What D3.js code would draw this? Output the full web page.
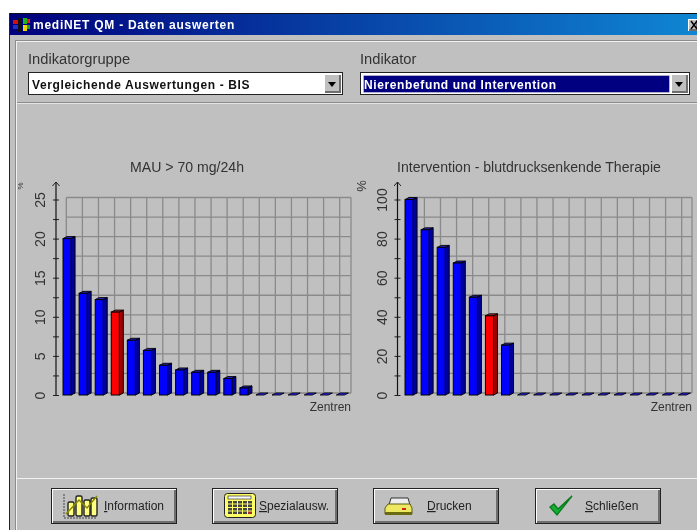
<!DOCTYPE html>
<html>
<head>
<meta charset="utf-8">
<script src="https://cdn.jsdelivr.net/npm/d3@7"></script>
<style>
  html, body { margin: 0; padding: 0; background: #fff; overflow: hidden; }
  svg { display: block; filter: blur(0.3px); }
  text { font-family: "Liberation Sans", Arial, sans-serif; fill: #222; }
</style>
</head>
<body>
<svg id="screen" width="697" height="530"></svg>
<script>
// Data
const centres = d3.range(1, 19);
const mauValues = [20, 13, 12.2, 10.6, 7, 5.7, 3.8, 3.2, 2.9, 2.9, 2.1, 0.9, 0, 0, 0, 0, 0, 0];
const therapyValues = [100, 84.5, 75.5, 67.5, 50, 40.5, 25.5, 0, 0, 0, 0, 0, 0, 0, 0, 0, 0, 0];
const mauTicks = [0, 5, 10, 15, 20, 25];
const therapyTicks = [0, 20, 40, 60, 80, 100];
const buttonLabels = ['Information', 'Spezialausw.', 'Drucken', 'Schließen'];

const svg = d3.select('#screen');

// Windows style raised box
function raised(g, x, y, w, h, outline = true) {
  if (outline) g.append('rect').attr('x', x).attr('y', y).attr('width', w).attr('height', h).attr('fill', '#222');
  g.append('rect').attr('x', x + 1).attr('y', y + 1).attr('width', w - 2).attr('height', h - 2).attr('fill', '#fff');
  g.append('rect').attr('x', x + 2).attr('y', y + 2).attr('width', w - 3).attr('height', h - 3).attr('fill', '#6e6e6e');
  g.append('rect').attr('x', x + 2).attr('y', y + 2).attr('width', w - 5).attr('height', h - 5).attr('fill', '#c0c0c0');
}

function drawWindow() {
  const defs = svg.append('defs');
  const grad = defs.append('linearGradient').attr('id', 'titleGrad');
  grad.append('stop').attr('offset', '0%').attr('stop-color', '#00007c');
  grad.append('stop').attr('offset', '100%').attr('stop-color', '#0f86d2');

  svg.append('rect').attr('x', 9).attr('y', 13).attr('width', 688).attr('height', 517).attr('fill', '#c0c0c0');
  svg.append('rect').attr('x', 9).attr('y', 13).attr('width', 688).attr('height', 1).attr('fill', '#111');
  svg.append('rect').attr('x', 9).attr('y', 13).attr('width', 1).attr('height', 517).attr('fill', '#222');
  svg.append('rect').attr('x', 10).attr('y', 14).attr('width', 687).attr('height', 21).attr('fill', 'url(#titleGrad)');

  // frame grooves
  svg.append('rect').attr('x', 15).attr('y', 40).attr('width', 682).attr('height', 1).attr('fill', '#8c8c8c');
  svg.append('rect').attr('x', 15).attr('y', 41).attr('width', 682).attr('height', 1).attr('fill', '#f2f2f2');
  svg.append('rect').attr('x', 15).attr('y', 40).attr('width', 1).attr('height', 490).attr('fill', '#8c8c8c');
  svg.append('rect').attr('x', 16).attr('y', 41).attr('width', 1).attr('height', 489).attr('fill', '#f2f2f2');
  svg.append('rect').attr('x', 17).attr('y', 102).attr('width', 680).attr('height', 1).attr('fill', '#8c8c8c');
  svg.append('rect').attr('x', 17).attr('y', 103).attr('width', 680).attr('height', 1).attr('fill', '#e4e4e4');
  svg.append('rect').attr('x', 17).attr('y', 478).attr('width', 680).attr('height', 1).attr('fill', '#f2f2f2');

  // title bar icon
  const icon = svg.append('g');
  [['#d01010', 13, 20, 5, 4], ['#2030d0', 13, 25, 5, 4], ['#20b020', 23, 18, 4, 6], ['#e8d800', 23, 25, 4, 6],
   ['#111', 18, 18, 4, 14], ['#e02020', 27, 19, 3, 4], ['#20a020', 27, 25, 3, 4]].forEach(d => {
    icon.append('rect').attr('fill', d[0]).attr('x', d[1]).attr('y', d[2]).attr('width', d[3]).attr('height', d[4]);
  });
  svg.append('text').attr('x', 33).attr('y', 29).text('mediNET QM - Daten auswerten')
    .style('font-size', '12px').style('font-weight', 'bold').style('letter-spacing', '0.74px').style('fill', '#fff');

  // close button
  const close = svg.append('g');
  raised(close, 687, 18, 12, 14, false);
  close.append('path').attr('d', 'M691 21L697 29M697 21L691 29').attr('stroke', '#000').attr('stroke-width', 1.5);
}

function drawCombo(label, value, x, w, selected) {
  const g = svg.append('g');
  g.append('text').attr('x', x).attr('y', 64).text(label).style('font-size', '14.7px').style('fill', '#333');
  g.append('rect').attr('x', x + 0.5).attr('y', 72.5).attr('width', w - 1).attr('height', 22)
    .attr('fill', '#fff').attr('stroke', '#222');
  if (selected) {
    g.append('rect').attr('x', x + 3.5).attr('y', 75.5).attr('width', w - 24).attr('height', 17)
      .attr('fill', '#000080').attr('stroke', '#ddd').attr('stroke-dasharray', '1,1');
  }
  g.append('text').attr('x', x + 4).attr('y', 89).text(value)
    .style('font-size', '12px').style('font-weight', 'bold').style('letter-spacing', '0.62px')
    .style('fill', selected ? '#fff' : '#111');
  const btn = g.append('g');
  raised(btn, x + w - 20, 73, 19, 21, false);
  btn.append('path').attr('d', d3.line()([[x + w - 15, 82], [x + w - 7, 82], [x + w - 11, 87]])).attr('fill', '#000');
}

function drawChart(opts) {
  const { values, ticks, minorStep, maxValue, title, titleX, unit, axisX, firstBar, gridRight, highlight, unitFont, unitX } = opts;
  const g = svg.append('g');
  const y = d3.scaleLinear().domain([0, maxValue]).range([395, 199.5]);
  const x = d3.scaleBand().domain(centres)
    .range([firstBar - 4, firstBar - 4 + 18 * 16.08])
    .paddingInner(0.5).paddingOuter(0.25);
  const depthX = 4, depthY = 2;
  const gridTicks = d3.range(0, maxValue + minorStep / 2, minorStep);
  const gridColor = '#8a8a8a';

  // grid
  const gridG = g.append('g').attr('stroke', gridColor).attr('stroke-width', 1.3);
  gridG.selectAll('line.h').data(gridTicks).enter().append('line').attr('class', 'h')
    .attr('x1', x(1) + depthX - 0.5).attr('x2', gridRight)
    .attr('y1', d => y(d) - depthY).attr('y2', d => y(d) - depthY);
  gridG.selectAll('line.v').data(centres.slice(1)).enter().append('line').attr('class', 'v')
    .attr('x1', d => x(d) + 3.3).attr('x2', d => x(d) + 3.3)
    .attr('y1', y(maxValue) - depthY).attr('y2', y(0) - depthY);
  gridG.append('line').attr('x1', gridRight).attr('x2', gridRight).attr('y1', y(maxValue) - depthY).attr('y2', y(0) - depthY);
  gridG.append('line').attr('x1', x(1) + 3.3).attr('x2', x(1) + 3.3).attr('y1', y(maxValue) - depthY).attr('y2', y(0) - depthY);

  // y axis
  const axis = d3.axisLeft(y).tickValues(d3.range(0, maxValue + minorStep / 2, minorStep))
    .tickSize(3).tickFormat(d => ticks.includes(d) ? d : '');
  const axisG = g.append('g').attr('transform', `translate(${axisX},0)`).call(axis);
  axisG.select('.domain').remove();
  axisG.selectAll('.tick line').attr('x2', -3).attr('x1', 3).attr('stroke', '#222').attr('stroke-width', 1);
  axisG.selectAll('.tick text')
    .attr('transform', 'rotate(-90)').attr('x', 0).attr('y', -11).attr('dy', 0)
    .attr('text-anchor', 'middle')
    .style('font-size', '14px').style('fill', '#333');
  axisG.append('line').attr('y1', y(0)).attr('y2', 182).attr('stroke', '#111').attr('stroke-width', 1.2);
  axisG.append('path').attr('d', 'M-3.5 186L0 182L3.5 186').attr('fill', 'none').attr('stroke', '#222');

  // bars, back faces first so that the front stays on top
  const bars = g.selectAll('g.bar').data(centres).enter().append('g').attr('class', 'bar');
  const colors = d => d === highlight
    ? { front: '#ff0000', side: '#a00000', top: '#c02828' }
    : { front: '#0000ff', side: '#00009c', top: values[d - 1] > 0 ? '#2424c4' : '#2a2aff' };
  bars.append('path')
    .attr('d', d => {
      const x0 = x(d), x1 = x0 + x.bandwidth(), t = y(values[d - 1]);
      return `M${x0} ${t}L${x0 + depthX} ${t - depthY}L${x1 + depthX} ${t - depthY}L${x1} ${t}Z`;
    })
    .attr('fill', d => colors(d).top).attr('stroke', '#000').attr('stroke-width', 0.9);
  bars.filter(d => values[d - 1] > 0).append('path')
    .attr('d', d => {
      const x1 = x(d) + x.bandwidth(), t = y(values[d - 1]), b = y(0);
      return `M${x1} ${t}L${x1 + depthX} ${t - depthY}L${x1 + depthX} ${b - depthY}L${x1} ${b}Z`;
    })
    .attr('fill', d => colors(d).side).attr('stroke', '#000').attr('stroke-width', 1);
  bars.filter(d => values[d - 1] > 0).append('rect')
    .attr('x', d => x(d)).attr('y', d => y(values[d - 1]))
    .attr('width', x.bandwidth()).attr('height', d => y(0) - y(values[d - 1]))
    .attr('fill', d => colors(d).front).attr('stroke', '#000').attr('stroke-width', 1);

  // labels
  g.append('text').attr('x', titleX).attr('y', 172).attr('text-anchor', 'middle').text(title)
    .style('font-size', '14.1px').style('fill', '#333');
  g.append('text').attr('transform', `translate(${unitX},186) rotate(-90)`).attr('text-anchor', 'middle').text(unit)
    .style('font-size', unitFont).style('fill', '#333');
  g.append('text').attr('x', gridRight).attr('y', 411).attr('text-anchor', 'end').text('Zentren')
    .style('font-size', '12px').style('fill', '#333');
}

function drawButton(i, x, textX) {
  const g = svg.append('g');
  const y0 = 488, w = 126, h = 36;
  raised(g, x, y0, w, h);
  const txt = g.append('text').attr('x', textX).attr('y', y0 + 22)
    .style('font-size', '12px').style('fill', '#222');
  const label = buttonLabels[i];
  txt.append('tspan').attr('text-decoration', 'underline').text(label[0]);
  txt.append('tspan').text(label.slice(1));
  const ic = g.append('g').attr('transform', `translate(${x},${y0})`);
  if (i === 0) {
    ic.append('path').attr('d', 'M13 6V30H46').attr('fill', 'none').attr('stroke', '#444').attr('stroke-dasharray', '2,1');
    [[17, 14], [25, 8], [33, 12], [40, 10]].forEach(d => {
      ic.append('rect').attr('x', d[0]).attr('y', d[1]).attr('width', 6).attr('height', 28 - d[1])
        .attr('fill', '#ffff80').attr('stroke', '#222').attr('stroke-width', 1.4).attr('rx', 1.5);
    });
    ic.append('path').attr('d', 'M15 26L28 12L36 20L46 8').attr('fill', 'none').attr('stroke', '#8a8a00').attr('stroke-width', 1.5);
  } else if (i === 1) {
    ic.append('rect').attr('x', 12.5).attr('y', 5.5).attr('width', 31).attr('height', 24).attr('rx', 3)
      .attr('fill', '#ffff66').attr('stroke', '#222');
    ic.append('rect').attr('x', 16).attr('y', 8).attr('width', 23).attr('height', 3).attr('fill', '#fff').attr('stroke', '#333').attr('stroke-width', 0.7);
    d3.range(4).forEach(r => d3.range(5).forEach(c => {
      ic.append('rect').attr('x', 16 + c * 5).attr('y', 13 + r * 3.5).attr('width', 4).attr('height', 2.5)
        .attr('fill', r === 3 && c === 4 ? '#a03020' : '#444');
    }));
  } else if (i === 2) {
    ic.append('path').attr('d', 'M18 10L35 10L37 17L16 17Z').attr('fill', '#eee').attr('stroke', '#333');
    ic.append('path').attr('d', 'M15 16H37L39 20V26H12V20Z').attr('fill', '#ece860').attr('stroke', '#5c5c10');
    ic.append('rect').attr('x', 12).attr('y', 24).attr('width', 27).attr('height', 3).attr('fill', '#6a6a10');
    ic.append('rect').attr('x', 29).attr('y', 20).attr('width', 4).attr('height', 2).attr('fill', '#d02020');
  } else {
    ic.append('path').attr('d', 'M15 19L22 27L37 8L23 21L19 16Z').attr('fill', '#12b030').attr('stroke', '#0a7a1e').attr('stroke-width', 1.3);
  }
}

drawWindow();
drawCombo('Indikatorgruppe', 'Vergleichende Auswertungen - BIS', 28, 315, false);
drawCombo('Indikator', 'Nierenbefund und Intervention', 360, 330, true);

drawChart({
  values: mauValues, ticks: mauTicks, minorStep: 2.5, maxValue: 25,
  title: 'MAU > 70 mg/24h', titleX: 187, unit: '%', unitFont: '8px', unitX: 23,
  axisX: 56, firstBar: 63, gridRight: 351, highlight: 4
});
drawChart({
  values: therapyValues, ticks: therapyTicks, minorStep: 10, maxValue: 100,
  title: 'Intervention - blutdrucksenkende Therapie', titleX: 529, unit: '%', unitFont: '13px', unitX: 366,
  axisX: 397.5, firstBar: 405, gridRight: 692, highlight: 6
});

drawButton(0, 51, 104);
drawButton(1, 212, 259);
drawButton(2, 373, 427);
drawButton(3, 535, 585);
</script>
</body>
</html>
